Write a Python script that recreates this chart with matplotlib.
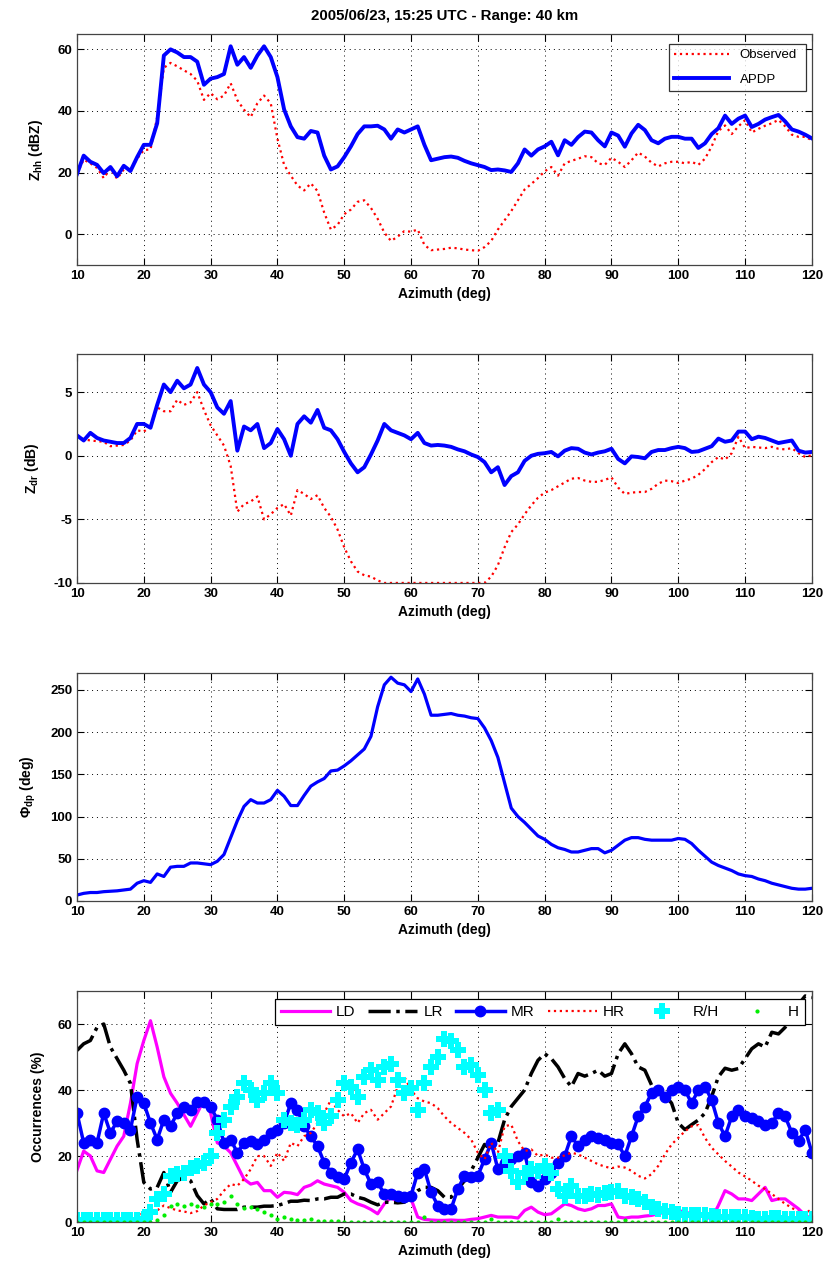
import matplotlib
matplotlib.use('Agg')
import matplotlib.pyplot as plt
import numpy as np

plt.rcParams['font.family'] = ['Liberation Sans', 'DejaVu Sans']
plt.rcParams['mathtext.fontset'] = 'custom'
plt.rcParams['mathtext.rm'] = 'Liberation Sans:bold'
plt.rcParams['mathtext.it'] = 'Liberation Sans:bold'
plt.rcParams['mathtext.bf'] = 'Liberation Sans:bold'
plt.rcParams['axes.unicode_minus'] = False

# azimuth samples (deg)
azimuth = np.arange(10, 121, 1)

# ---- panel 1: Zhh (dBZ) ----
zhh_observed = [
    19.6, 24.2, 23, 21.5, 18.2, 21.3, 18, 21, 20.8, 24.5,
    27.3, 27.5, 38, 54, 55.6, 54.5, 53.2, 52, 49.8, 43.6,
    45.8, 43.8, 45, 49, 43.5, 40.4, 38, 42.5, 45, 42.5,
    31, 22.5, 19, 15.8, 14.2, 16.5, 14, 7, 1.5, 3,
    6.5, 8, 10.5, 11, 8.5, 5, 0.5, -2.2, -0.8, 1,
    0.8, 1.5, -3.5, -5.2, -5, -4.8, -4.4, -4.6, -5, -5.2,
    -5.4, -4.2, -2.2, 1.5, 4.5, 7.5, 11, 14.5, 16.3, 18.2,
    20.4, 21.8, 19, 23, 23.8, 24.5, 25.3, 25, 23, 22.5,
    24.8, 23.5, 21.8, 24, 26.5, 25.2, 23.2, 22, 23, 23.5,
    23.5, 23, 23.5, 22.5, 24.5, 28.5, 33.5, 35.3, 32.5, 35,
    37, 33, 34.2, 35.2, 36, 37.1, 35, 32.3, 31.6, 31.6,
    30.5]
zhh_apdp = [
    19.5, 25.5, 23.5, 22.5, 19.8, 21.8, 18.8, 22.2, 20.5, 25,
    29, 29, 36, 58, 60, 59, 57.5, 57.5, 56, 48.5,
    50.5, 51, 52, 61, 55, 57.5, 54, 58, 61, 57.5,
    51, 40.5, 35, 31.5, 31, 33.5, 33, 25.5, 21, 22,
    25, 28.5, 32.5, 35, 35, 35.2, 34, 31, 34, 33,
    34, 35, 29, 24, 24.5, 25, 25.2, 24.8, 23.8, 23,
    22.4, 21.8, 20.8, 21, 20.7, 20.2, 23, 27.5, 25.5, 27.5,
    28.5, 30, 25.6, 30.5, 29, 31.5, 33.3, 33, 30.5, 28.5,
    33, 32, 28.4, 32.7, 35.5, 33.8, 30.5, 29.5, 31, 31.6,
    31.6, 31, 31, 28, 29.5, 32.5, 34.4, 38.5, 35.8, 37.5,
    38.5, 34.8, 35.8, 37.2, 38, 38.7, 36.6, 34, 33.3, 32.3,
    31.1]

# ---- panel 2: Zdr (dB) ----
zdr_observed = [
    1.6, 1.3, 1.2, 1.15, 1.1, 0.75, 0.8, 0.85, 1.2, 2.0,
    1.9, 2.3, 3.8, 3.5, 3.5, 4.4, 4.0, 4.2, 5.0, 3.6,
    2.4, 1.6, 0.8, -0.8, -4.4, -3.8, -3.6, -3.2, -5.0, -4.6,
    -4.1, -3.8, -4.7, -2.7, -3.0, -3.4, -3.1, -4.1, -4.8, -5.8,
    -7.2, -8.3, -9.1, -9.4, -9.5, -9.8, -10, -10, -10, -10,
    -10, -10, -10, -10, -10, -10, -10, -10, -10, -10,
    -10, -10, -9.5, -8.6, -7.2, -6.0, -5.4, -4.6, -3.9, -3.3,
    -2.9, -2.7, -2.4, -2.1, -1.8, -1.75, -1.95, -2.05, -2.05, -1.9,
    -1.7, -2.5, -3.0, -2.9, -2.85, -2.85, -2.6, -2.2, -1.95, -2.0,
    -2.15, -1.95, -1.8, -1.5, -1.05, -0.5, -0.1, -0.3, 0.2, 1.5,
    0.6, 0.7, 0.65, 0.6, 0.7, 0.55, 0.5, 0.6, 0.2, -0.1,
    0.05]
zdr_apdp = [
    1.6, 1.2, 1.8, 1.4, 1.2, 1.1, 1.0, 1.0, 1.4, 2.5,
    2.5, 2.2, 4.0, 5.6, 5.0, 5.9, 5.3, 5.6, 6.9, 5.6,
    5.0, 3.8, 3.3, 4.3, 0.4, 2.3, 2.0, 2.5, 0.6, 1.0,
    2.1, 1.3, 0.0, 2.5, 3.1, 2.6, 3.6, 2.2, 2.0, 1.3,
    0.3, -0.6, -1.3, -0.9, 0.1, 1.2, 2.5, 2.0, 1.8, 1.6,
    1.3, 1.8, 1.0, 0.8, 0.85, 0.8, 0.7, 0.5, 0.35, 0.1,
    -0.1, -0.5, -1.3, -0.9, -2.3, -1.6, -1.3, -0.4, 0.0, 0.15,
    0.2, 0.3, -0.05, 0.4, 0.6, 0.55, 0.25, 0.1, 0.25, 0.35,
    0.55, -0.25, -0.6, -0.05, -0.1, -0.2, 0.3, 0.45, 0.45, 0.6,
    0.7, 0.6, 0.3, 0.35, 0.55, 0.75, 1.35, 1.1, 1.2, 1.9,
    1.9, 1.3, 1.5, 1.4, 1.2, 1.0, 1.1, 1.2, 0.4, 0.25,
    0.3]

# ---- panel 3: Phidp (deg) ----
phidp = [
    7, 9, 10, 10, 11, 11.5, 12, 13, 14, 21,
    24, 22, 32, 29, 40, 41, 41, 45, 45, 44,
    43, 47, 55, 75, 95, 112, 120, 116, 116, 120,
    131, 124, 113, 113, 125, 136, 141, 145, 154, 155,
    160, 166, 173, 180, 195, 230, 256, 265, 258, 256,
    248, 263, 245, 220, 220, 221, 222, 220, 219, 217,
    216, 205, 190, 170, 140, 110, 100, 93, 85, 77,
    73, 67, 63, 61, 58, 58, 60, 62, 62, 57,
    60, 66, 72, 75, 75, 73, 72, 72, 72, 72,
    74, 73, 68, 60, 53, 46, 42, 39, 36, 32,
    30, 29, 26, 24, 21, 19, 17, 15, 14, 14,
    15]

# ---- panel 4: hydrometeor occurrences (%) ----
occ_ld = [
    15.7, 21.5, 20, 15.5, 15, 19, 23, 26, 36, 48,
    55, 61, 53, 44, 39, 36, 32.5, 29, 33, 37,
    33, 24, 23, 21, 17, 13, 11.5, 12, 9.5, 9.5,
    7.5, 9, 8.8, 8.3, 10.5, 11.2, 12.5, 11.5, 11, 10.5,
    9, 6.5, 5.5, 4.8, 3.8, 2.5, 5.5, 7.5, 6, 6.5,
    7, 1.5, 0.8, 0.6, 0.5, 0.5, 0.6, 0.5, 0.5, 0.8,
    1, 1.5, 2, 1.5, 1.5, 1.5, 1.2, 3.5, 4.5, 3,
    2.2, 2.5, 4, 5.5, 5, 4, 3.5, 4, 5, 5,
    5.5, 1.5, 1.2, 1.5, 1.5, 1.8, 2, 2.5, 3, 3,
    3.5, 3, 2.5, 2, 1.5, 1, 5, 9.5, 8.5, 7,
    7, 6.5, 8.5, 10.5, 6.5, 7, 7, 5.5, 4, 2,
    1]
occ_lr = [
    52, 54, 55, 59, 60, 53, 49.5, 46, 42, 25,
    12, 10, 10.5, 15, 9, 12.5, 13.5, 12.5, 8, 5.5,
    7, 4, 3.8, 3.8, 3.8, 4.5, 4.5, 4.5, 4.8, 4.8,
    5, 5.6, 6.3, 6.3, 6.6, 6.5, 7, 7, 7.5, 7.5,
    8.5, 8.5, 7.5, 7, 6, 5.2, 6, 6, 5.8, 6,
    7.5, 9.5, 10.5, 10.5, 9.5, 7.5, 7.5, 10, 12.5, 15.5,
    19.5, 23.5, 22, 24, 31, 35, 37.5, 40, 45, 49,
    51, 49.5, 47, 43.5, 41, 45, 44.2, 45, 46, 44.2,
    45, 51, 54, 51, 47, 46, 41.5, 40.5, 38.5, 36,
    30, 28, 29.5, 30.9, 33, 38, 44, 46.6, 46, 46.5,
    49.5, 52.5, 54, 53, 57.5, 57, 59, 62.5, 66, 68.5,
    68]
occ_mr = [
    33, 24, 25, 24, 33, 27, 30.5, 30, 28, 38,
    36, 30, 25, 31, 29, 33, 35, 34, 36.5, 36.5,
    35, 31, 24, 25, 21, 24, 24.5, 23.5, 25, 27,
    28, 30, 36, 34, 29, 26, 23, 18, 15, 13.5,
    13, 18, 22, 16, 11.5, 12, 8.5, 8.5, 8, 7.5,
    8, 15, 16, 9, 5, 4, 4, 10, 14, 13.5,
    14, 19, 24, 16, 18, 19, 20, 21, 12, 11,
    13, 15, 18, 20, 26, 23, 25, 26, 25.5, 25,
    24, 23.5, 20, 26, 32, 35, 39, 40, 38, 40,
    41, 40, 36, 40, 41, 37, 30, 26, 32, 34,
    32, 31.5, 30.5, 29.5, 30, 33, 32, 27, 24.5, 28,
    21]
occ_hr = [
    0, 0, 0, 0, 0.3, 0.5, 1.5, 2, 2.5, 2.2,
    2.5, 3, 3.5, 5, 4.2, 3.5, 3.2, 2.7, 3.3, 5,
    6, 7, 9.5, 11.5, 11, 13, 16, 20, 20, 17,
    21, 18.5, 24, 23, 26, 27, 30, 33, 37, 34,
    32, 33, 30, 33, 34, 31, 33, 35, 41, 44,
    40, 37.5, 36.5, 36, 34.5, 32, 30, 28.5, 27, 25,
    21, 19, 24, 21, 29, 29.5, 24.5, 21.5, 22, 20,
    20.5, 19.5, 19.5, 20.2, 21, 20.5, 19.5, 18.5, 17.5, 16.8,
    16.3, 16.8, 16.5, 15.5, 14, 13.2, 14.5, 17, 20.5, 23.5,
    25.5, 27.5, 29, 29.4, 25.5, 22.5, 20.5, 18.5, 16.8, 15,
    13.8, 12.5, 11, 10, 8.5, 7, 5.5, 4.3, 3, 2.5,
    4]
occ_rh = [
    0.5, 0.5, 0.5, 0.5, 0.5, 0.5, 0.5, 0.5, 0.5, 0.5,
    1, 3, 7, 8.5, 14, 14.5, 15, 16.5, 17, 18,
    20, 27, 31, 35, 38, 42, 40, 37, 39, 42,
    39, 31, 30, 29.5, 31, 34, 33, 30, 32, 37,
    42, 41, 38, 44, 46, 43, 47, 48, 43, 39,
    40.5, 34, 42, 47, 50, 55.5, 55, 52, 47, 47.5,
    44.5, 40, 33, 34, 20, 15.5, 12, 15, 16, 15.5,
    17, 15, 10, 8, 11, 8, 8, 8.5, 8.2, 8.8,
    9.2, 9.5, 8, 7.5, 7, 6, 4.5, 3.8, 3.3, 3,
    2.5, 2, 2, 2, 2, 1.8, 1.5, 1.5, 1.5, 1.5,
    1.4, 1.2, 1, 1, 1.2, 1.2, 1, 1, 1, 1,
    1]
occ_h = [
    0, 0, 0, 0, 0, 0, 0, 0, 0, 0,
    0, 0, 0.5, 2, 5, 5.5, 5, 5.5, 4.8, 4.5,
    5.5, 5.5, 6, 8, 5.5, 4.2, 4.5, 4, 3, 2,
    1, 1.5, 0.8, 0.5, 0.5, 0.8, 0.3, 0.3, 0.2, 0.2,
    0, 0, 0, 0, 0, 0, 0, 0, 0, 0,
    0, 0, 1.5, 0, 0, 0, 0, 0, 0, 0,
    0, 0, 1, 0, 0, 0, 0, 0, 0, 0,
    0, 0, 0.8, 0, 0, 0, 0, 0, 0, 0,
    0, 0, 0.5, 0, 0, 0, 0, 0, 0, 0,
    0, 0, 0, 0, 0, 0, 0, 0, 0, 0,
    0, 0, 0, 0, 0, 0, 0, 0, 0, 0,
    0]

title = '2005/06/23, 15:25 UTC - Range: 40 km'
xticks = np.arange(10, 121, 10)

fig = plt.figure(figsize=(8.37, 12.72), dpi=100)

rects = [
    [0.092, 0.7917, 0.878, 0.1816],
    [0.092, 0.5417, 0.878, 0.1800],
    [0.092, 0.2917, 0.878, 0.1792],
    [0.092, 0.0393, 0.878, 0.1816],
]
axes = [fig.add_axes(r) for r in rects]


def style_axis(ax, ylim, yticks, ylabel):
    ax.set_xlim(10, 120)
    ax.set_ylim(*ylim)
    ax.set_xticks(xticks)
    ax.set_yticks(yticks)
    ax.tick_params(direction='in', top=True, right=True, length=5,
                   width=0.8, labelsize=9.5)
    for lab in ax.get_xticklabels() + ax.get_yticklabels():
        lab.set_fontweight('bold')
    ax.grid(True, color='black', linestyle=(0, (1, 4)), linewidth=0.7)
    for sp in ax.spines.values():
        sp.set_color('#444444')
        sp.set_linewidth(0.9)
    ax.set_xlabel('Azimuth (deg)', fontsize=10, fontweight='bold', labelpad=4)
    ax.set_ylabel(ylabel, fontsize=10, fontweight='bold', labelpad=9)


# panel 1
ax = axes[0]
ax.plot(azimuth, zhh_observed, color='red', linestyle=':', linewidth=1.6, label='Observed')
ax.plot(azimuth, zhh_apdp, color='blue', linewidth=2.8, label='APDP')
style_axis(ax, (-10, 65), [0, 20, 40, 60], r'Z$_{\mathrm{hh}}$ (dBZ)')
ax.set_title(title, fontsize=10.8, fontweight='bold', pad=10)
leg = ax.legend(loc='upper left', bbox_to_anchor=(0.805, 0.723, 0.187, 0.234),
                mode='expand', fontsize=9.5, handlelength=4.2, borderaxespad=0,
                frameon=True, fancybox=False, labelspacing=0.9)
leg.get_frame().set_edgecolor('black')
leg.get_frame().set_linewidth(0.9)

# panel 2
ax = axes[1]
ax.plot(azimuth, zdr_observed, color='red', linestyle=':', linewidth=1.6)
ax.plot(azimuth, zdr_apdp, color='blue', linewidth=2.8)
style_axis(ax, (-10, 8), [-10, -5, 0, 5], r'Z$_{\mathrm{dr}}$ (dB)')

# panel 3
ax = axes[2]
ax.plot(azimuth, phidp, color='blue', linewidth=2.3)
style_axis(ax, (0, 270), [0, 50, 100, 150, 200, 250], r'Φ$_{\mathrm{dp}}$ (deg)')

# panel 4
ax = axes[3]
ax.plot(azimuth, occ_ld, color='magenta', linewidth=2.3, label='LD')
ax.plot(azimuth, occ_lr, color='black', linestyle='-.', linewidth=2.5, label='LR')
ax.plot(azimuth, occ_mr, color='blue', linewidth=2.5, marker='o', markersize=7.5,
        label='MR')
ax.plot(azimuth, occ_hr, color='red', linestyle=':', linewidth=1.6, label='HR')
ax.plot(azimuth, occ_rh, color='cyan', linestyle='none', marker='P', markersize=11,
        markeredgewidth=0, label='R/H')
ax.plot(azimuth, occ_h, color='#00ee00', linestyle='none', marker='.', markersize=4,
        label='H')
style_axis(ax, (0, 70), [0, 20, 40, 60], 'Occurrences (%)')
leg = ax.legend(loc='upper left', bbox_to_anchor=(0.269, 0.823, 0.721, 0.142),
                mode='expand', ncol=6, fontsize=11, handlelength=3.2,
                handletextpad=0.4, columnspacing=0.6, borderaxespad=0,
                frameon=True, fancybox=False)
leg.get_frame().set_edgecolor('black')
leg.get_frame().set_linewidth(0.9)
leg.get_frame().set_alpha(1)

fig.savefig('out.png', dpi=100, facecolor='white')
